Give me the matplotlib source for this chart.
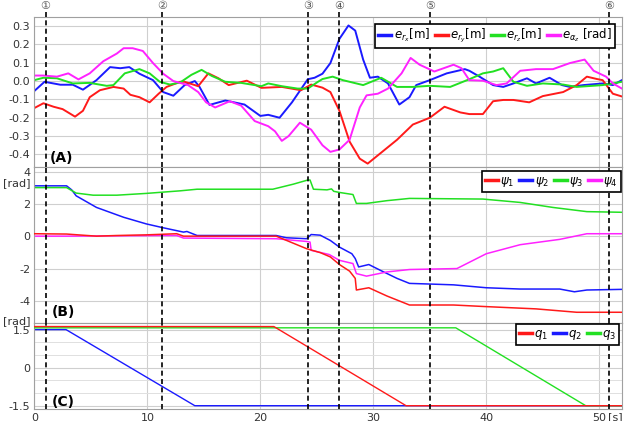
import matplotlib
matplotlib.use("Agg")
import matplotlib.pyplot as plt
from matplotlib.ticker import MultipleLocator

plt.rcParams['font.family'] = ['DejaVu Sans', 'Noto Sans CJK JP']
plt.rcParams['axes.unicode_minus'] = False

# event times (dashed lines) and their marks
events_t = [1.0, 11.3, 24.2, 27.0, 35.0, 50.9]
events_lbl = ['①', '②', '③', '④', '⑤', '⑥']

# (A) tracking errors
erx_t = [0, 0.9, 2.3, 3.4, 4.3, 5.5, 6.7, 7.6, 8.4, 9.3, 10.5, 11.4, 12.3, 13.3, 14.2, 14.6, 15.5,
         16.9, 18.6, 20.0, 20.7, 21.7, 22.8, 24.2, 24.8, 25.5, 26.2, 27.0, 27.8, 28.4, 29.1, 29.7,
         30.4, 31.3, 32.3, 33.2, 33.8, 35.0, 36.5, 38.1, 38.5, 39.4, 40.6, 41.5, 42.4, 43.6, 44.4,
         45.6, 46.7, 47.4, 48.6, 50.3, 51.2, 52]
erx = [-0.054, -0.004, -0.02, -0.02, -0.047, 0.005, 0.076, 0.07, 0.076, 0.04, 0.005, -0.06, -0.08,
       -0.022, 0.0, -0.03, -0.13, -0.106, -0.128, -0.19, -0.184, -0.2, -0.116, 0.01, 0.018, 0.04,
       0.098, 0.23, 0.303, 0.275, 0.117, 0.018, 0.024, -0.013, -0.128, -0.088, -0.022, 0.005, 0.042,
       0.065, 0.056, 0.024, -0.022, -0.032, -0.013, 0.015, -0.013, 0.018, -0.022, -0.032, -0.022,
       -0.013, -0.022, 0.005]

ery_t = [0, 0.8, 1.7, 2.5, 3.6, 4.3, 4.9, 5.8, 7.0, 7.9, 8.5, 9.3, 10.2, 11.0, 11.7, 12.9, 13.3,
         14.5, 15.4, 16.3, 17.2, 18.8, 20.1, 21.9, 23.6, 24.5, 25.5, 26.2, 27.0, 27.9, 28.8, 29.5,
         30.6, 32.1, 33.5, 35.0, 36.3, 37.7, 38.5, 39.7, 40.6, 41.5, 42.4, 43.8, 45.0, 46.8, 48.0,
         48.9, 49.8, 50.3, 51.2, 52]
ery = [-0.147, -0.121, -0.14, -0.153, -0.194, -0.162, -0.088, -0.05, -0.032, -0.041, -0.075, -0.088,
       -0.116, -0.069, -0.032, -0.004, -0.004, -0.028, 0.042, 0.015, -0.022, 0.002, -0.037, -0.032,
       -0.05, -0.019, -0.036, -0.06, -0.162, -0.33, -0.423, -0.45, -0.395, -0.32, -0.237, -0.2,
       -0.14, -0.171, -0.18, -0.18, -0.11, -0.103, -0.103, -0.116, -0.082, -0.06, -0.022, 0.024,
       0.011, 0.005, -0.069, -0.084]

erz_t = [0, 0.8, 2.0, 3.4, 4.9, 6.4, 7.0, 8.0, 9.3, 10.2, 11.1, 12.0, 12.9, 13.9, 14.8, 15.7, 16.9,
         18.3, 20.1, 20.7, 21.9, 23.3, 24.2, 25.1, 25.5, 26.4, 27.3, 29.1, 30.7, 32.1, 33.5, 35.0,
         36.8, 38.5, 39.7, 40.6, 41.5, 42.4, 43.6, 45.0, 46.8, 48.0, 50.3, 51.2, 52]
erz = [0.005, 0.018, 0.015, -0.013, -0.01, -0.026, -0.022, 0.042, 0.065, 0.042, -0.004, -0.019,
       -0.008, 0.034, 0.061, 0.028, -0.004, -0.01, -0.028, -0.013, -0.028, -0.041, -0.041, -0.004,
       0.011, 0.024, 0.005, -0.022, 0.018, -0.032, -0.032, -0.026, -0.032, 0.01, 0.042, 0.052,
       0.07, -0.004, -0.026, -0.013, -0.019, -0.032, -0.022, -0.013, -0.004]

eaz_t = [0, 0.8, 2.0, 3.0, 3.9, 4.9, 6.1, 7.3, 7.9, 8.7, 9.6, 10.5, 11.4, 12.3, 13.6, 14.5, 15.2,
         16.0, 17.3, 18.3, 19.5, 20.7, 21.3, 21.9, 22.5, 23.5, 24.5, 25.5, 26.2, 27.0, 27.9, 28.8,
         29.4, 30.4, 31.3, 32.5, 33.3, 34.1, 35.4, 37.1, 37.8, 38.5, 39.7, 40.9, 41.8, 43.0, 44.4,
         45.9, 47.4, 48.7, 49.5, 50.6, 51.2, 52]
eaz = [0.03, 0.03, 0.024, 0.042, 0.009, 0.042, 0.108, 0.15, 0.179, 0.179, 0.164, 0.098, 0.04, 0.0,
       -0.022, -0.06, -0.116, -0.144, -0.11, -0.134, -0.218, -0.246, -0.274, -0.326, -0.3, -0.227,
       -0.265, -0.35, -0.386, -0.373, -0.32, -0.144, -0.078, -0.069, -0.041, 0.042, 0.126, 0.089,
       0.052, 0.089, 0.07, 0.005, 0.002, -0.022, -0.013, 0.056, 0.065, 0.065, 0.098, 0.117, 0.056,
       0.024, -0.013, -0.041]

# (B) psi angles
psi1_t = [0, 2.85, 5.5, 7.3, 9.9, 12.6, 13.2, 21.4, 24.1, 25.3, 26.2, 27.0, 27.9, 28.4, 28.5, 29.6,
          31.2, 33.2, 37.1, 40.0, 44.4, 48.0, 52]
psi1 = [0.17, 0.15, 0.02, 0.06, 0.1, 0.17, 0.02, 0.02, -0.76, -1.0, -1.27, -1.74, -2.15, -2.6, -3.32,
        -3.18, -3.69, -4.25, -4.25, -4.35, -4.49, -4.70, -4.70]
psi2_t = [0, 2.85, 3.3, 3.7, 5.5, 7.9, 9.9, 11.4, 13.2, 13.5, 14.4, 21.4, 22.3, 24.1, 24.5, 25.3,
          26.2, 27.0, 28.1, 28.4, 28.7, 29.6, 30.6, 32.1, 33.2, 35.0, 37.1, 40.0, 43.0, 46.5, 47.8,
          48.9, 52]
psi2 = [3.14, 3.14, 2.89, 2.52, 1.8, 1.19, 0.78, 0.54, 0.27, 0.31, 0.06, 0.06, -0.08, -0.14, 0.12,
        0.08, -0.25, -0.66, -1.07, -1.37, -1.89, -1.74, -2.09, -2.6, -2.91, -2.95, -3.0, -3.18,
        -3.26, -3.26, -3.43, -3.32, -3.28]
psi3_t = [0, 2.85, 3.7, 5.2, 7.3, 9.9, 12.9, 14.4, 21.1, 22.9, 24.2, 24.4, 24.7, 25.9, 26.3, 26.5,
          27.0, 28.2, 28.5, 29.4, 31.2, 33.2, 39.7, 43.0, 45.9, 48.9, 52]
psi3 = [3.03, 3.03, 2.69, 2.56, 2.56, 2.67, 2.83, 2.93, 2.93, 3.24, 3.5, 3.5, 2.93, 2.89, 2.95, 2.8,
        2.73, 2.6, 2.05, 2.05, 2.22, 2.36, 2.32, 2.11, 1.8, 1.54, 1.5]
psi4_t = [0, 2.85, 11.4, 12.6, 13.2, 21.4, 24.1, 24.4, 24.5, 26.1, 27.0, 28.2, 28.5, 29.4, 31.2,
          33.2, 37.4, 40.0, 43.0, 46.5, 48.9, 52]
psi4 = [0.02, 0.02, 0.06, 0.06, -0.1, -0.14, -0.31, -0.35, -0.86, -1.12, -1.48, -1.68, -2.3, -2.46,
        -2.2, -2.05, -1.99, -1.07, -0.51, -0.18, 0.17, 0.17]

# (C) joint angles
q1_t = [0, 21.2, 32.9, 52]
q1 = [1.62, 1.62, -1.5, -1.5]
q2_t = [0, 2.8, 14.2, 52]
q2 = [1.5, 1.5, -1.5, -1.5]
q3_t = [0, 37.3, 48.8, 52]
q3 = [1.57, 1.57, -1.5, -1.5]

RED, BLUE, GREEN, MAG = '#ff1a1a', '#1a1aff', '#22e022', '#ff22ff'

fig = plt.figure(figsize=(6.25, 4.21), dpi=100)
gs = fig.add_gridspec(3, 1, height_ratios=[150, 155, 86], left=0.055, right=0.995,
                      top=0.96, bottom=0.0285, hspace=0.0)
axA = fig.add_subplot(gs[0])
axB = fig.add_subplot(gs[1], sharex=axA)
axC = fig.add_subplot(gs[2], sharex=axA)

axA.plot(erx_t, erx, color=BLUE, lw=1.4, label=r'$e_{r_x}$[m]')
axA.plot(ery_t, ery, color=RED, lw=1.4, label=r'$e_{r_y}$[m]')
axA.plot(erz_t, erz, color=GREEN, lw=1.4, label=r'$e_{r_z}$[m]')
axA.plot(eaz_t, eaz, color=MAG, lw=1.4, label=r'$e_{\alpha_z}$ [rad]')

axB.plot(psi1_t, psi1, color=RED, lw=1.1, label=r'$\psi_1$', zorder=3)
axB.plot(psi2_t, psi2, color=BLUE, lw=1.1, label=r'$\psi_2$', zorder=2)
axB.plot(psi3_t, psi3, color=GREEN, lw=1.1, label=r'$\psi_3$', zorder=2)
axB.plot(psi4_t, psi4, color=MAG, lw=1.1, label=r'$\psi_4$', zorder=2)

axC.plot(q1_t, q1, color=RED, lw=1.0, label=r'$q_1$', zorder=4)
axC.plot(q2_t, q2, color=BLUE, lw=1.0, label=r'$q_2$', zorder=2)
axC.plot(q3_t, q3, color=GREEN, lw=1.0, label=r'$q_3$', zorder=3)

axA.set_xlim(0, 52)
axA.set_ylim(-0.47, 0.35)
axB.set_ylim(-5.35, 4.29)
axC.set_ylim(-1.63, 1.77)

axA.set_yticks([0.3, 0.2, 0.1, 0.0, -0.1, -0.2, -0.3, -0.4])
axA.set_yticklabels(['0.3', '0.2', '0.1', '0.0', '-0.1', '-0.2', '-0.3', '-0.4'])
axB.set_yticks([4, 2, 0, -2, -4])
axC.set_yticks([1.5, 0, -1.5])
axC.set_yticklabels(['1.5', '0', '-1.5'])
axC.yaxis.set_minor_locator(MultipleLocator(0.5))
axC.set_xticks([0, 10, 20, 30, 40, 50])

for ax in (axA, axB, axC):
    ax.grid(True, which='major', color='#cfcfcf', lw=0.8)
    ax.tick_params(length=0, pad=3, labelsize=8, colors='#333333')
    for s in ax.spines.values():
        s.set_color('#a0a0a0')
    ax.set_axisbelow(True)
axC.grid(True, which='minor', axis='y', color='#e0e0e0', lw=0.7)
axC.tick_params(which='minor', length=0)
axA.tick_params(labelbottom=False)
axB.tick_params(labelbottom=False)

# event lines
for t in events_t:
    axA.axvline(t, ymin=0, ymax=1.047, color='k', ls=(0, (3, 2)), lw=1.2, clip_on=False, zorder=5)
    axB.axvline(t, color='k', ls=(0, (3, 2)), lw=1.2, zorder=5)
    axC.axvline(t, color='k', ls=(0, (3, 2)), lw=1.2, zorder=5)
for t, s in zip(events_t, events_lbl):
    axA.text(t, 1.072, s, transform=axA.get_xaxis_transform(), ha='center', va='center',
             fontsize=8, color='#555555')

# panel labels
axA.text(0.026, 0.06, '(A)', transform=axA.transAxes, fontsize=10, fontweight='bold', va='center')
axB.text(0.03, 0.07, '(B)', transform=axB.transAxes, fontsize=10, fontweight='bold', va='center')
axC.text(0.03, 0.08, '(C)', transform=axC.transAxes, fontsize=10, fontweight='bold', va='center')
axB.text(-0.03, 0.90, '[rad]', transform=axB.transAxes, fontsize=8, ha='center', va='center',
         color='#333333')
axC.text(-0.03, 1.02, '[rad]', transform=axC.transAxes, fontsize=8, ha='center', va='center',
         color='#333333')
axC.text(51.4, -0.035, '[s]', transform=axC.get_xaxis_transform(), fontsize=8, ha='center',
         va='top', color='#333333')

leg_kw = dict(frameon=True, fancybox=False, edgecolor='k', framealpha=1, fontsize=8.5,
              handlelength=1.1, handletextpad=0.2, columnspacing=0.4, borderpad=0.25,
              borderaxespad=0.0)
legA = axA.legend(loc='upper right', ncol=4, bbox_to_anchor=(0.988, 0.953), **leg_kw)
legB = axB.legend(loc='upper right', ncol=4, bbox_to_anchor=(0.998, 0.974), **leg_kw)
legC = axC.legend(loc='upper right', ncol=3, bbox_to_anchor=(0.995, 0.988), **leg_kw)
for lg in (legA, legB, legC):
    lg.get_frame().set_linewidth(1.2)
    lg.set_zorder(10)
    for ln in lg.get_lines():
        ln.set_linewidth(2.5)

fig.savefig('out.png', dpi=100)
